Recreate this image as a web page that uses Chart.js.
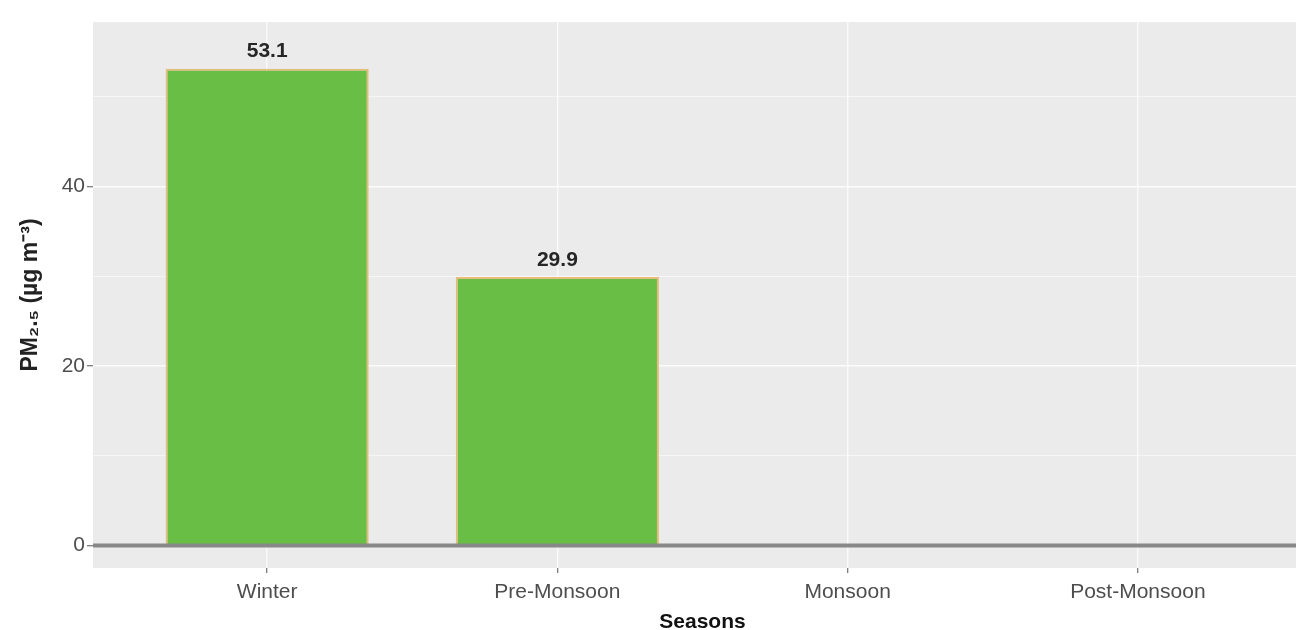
<!DOCTYPE html>
<html>
<head>
<meta charset="utf-8">
<script src="https://cdn.jsdelivr.net/npm/chart.js@4.4.1/dist/chart.umd.min.js"></script>
<style>
  html, body { margin: 0; padding: 0; background: #fff; overflow: hidden; }
  #wrap { width: 1312px; height: 645px; position: relative; }
</style>
</head>
<body>
<div id="wrap"><canvas id="barChart"></canvas></div>
<script>
// Seasonal mean PM2.5 values (Monsoon / Post-Monsoon have no bar)
const seasons = ["Winter", "Pre-Monsoon", "Monsoon", "Post-Monsoon"];
const pm25 = [53.1, 29.9, null, null];
const yMajorTicks = [0, 20, 40];
const yMinorTicks = [10, 30, 50];
const hlineY = 0;

// axis limits (ggplot style expansion)
const xMin = -0.6, xMax = 3.6;
const yMin = -2.5, yMax = 58.3;

const font = "'Liberation Sans', Arial, Helvetica, sans-serif";

// grey panel behind the plot
const panelBg = {
  id: "panelBg",
  beforeDraw(chart) {
    const { ctx, chartArea: a } = chart;
    ctx.save();
    ctx.fillStyle = "#EBEBEB";
    ctx.fillRect(a.left, a.top, a.right - a.left, a.bottom - a.top);
    ctx.restore();
  }
};

// value labels above each bar
const barLabels = {
  id: "barLabels",
  afterDatasetsDraw(chart) {
    const ctx = chart.ctx;
    const meta = chart.getDatasetMeta(0);
    ctx.save();
    ctx.font = "bold 21px " + font;
    ctx.fillStyle = "#262626";
    ctx.textAlign = "center";
    ctx.textBaseline = "middle";
    meta.data.forEach((bar, i) => {
      if (pm25[i] == null) return;
      ctx.fillText(pm25[i].toFixed(1), bar.x, bar.y - 17);
    });
    ctx.restore();
  }
};

const ctx = document.getElementById("barChart").getContext("2d");
new Chart(ctx, {
  type: "bar",
  data: {
    datasets: [
      {
        type: "bar",
        data: pm25.map((v, i) => ({ x: i, y: v })),
        backgroundColor: "#69BE45",
        borderColor: "#E6BC7C",
        borderWidth: 2,
        categoryPercentage: 1,
        barPercentage: 0.7,
        order: 1
      },
      {
        // horizontal reference line at zero
        type: "line",
        data: [{ x: xMin, y: hlineY }, { x: xMax, y: hlineY }],
        borderColor: "#888888",
        borderWidth: 4,
        pointRadius: 0,
        order: 0
      }
    ]
  },
  options: {
    responsive: true,
    maintainAspectRatio: false,
    animation: false,
    layout: { padding: { top: 22, left: 0, right: 0, bottom: 0 } },
    plugins: {
      legend: { display: false },
      tooltip: { enabled: false }
    },
    scales: {
      x: {
        type: "linear",
        min: xMin,
        max: xMax,
        offset: false,
        border: { display: false },
        afterBuildTicks: axis => {
          axis.ticks = seasons.map((_, i) => ({ value: i }));
        },
        afterFit: axis => { axis.height = 77; },
        grid: {
          offset: false,
          color: "rgba(255,255,255,0.75)",
          lineWidth: 1.5,
          tickColor: "#555555",
          tickLength: 5,
          tickWidth: 1
        },
        ticks: {
          autoSkip: false,
          maxRotation: 0,
          padding: 7,
          color: "#4D4D4D",
          font: { family: font, size: 21 },
          callback: value => seasons[value]
        },
        title: {
          display: true,
          text: "Seasons",
          color: "#111",
          font: { family: font, size: 21, weight: "bold" },
          padding: { top: 0, bottom: 10 }
        }
      },
      y: {
        min: yMin,
        max: yMax,
        border: { display: false },
        afterBuildTicks: axis => {
          axis.ticks = [...yMajorTicks, ...yMinorTicks]
            .sort((a, b) => a - b)
            .map(v => ({ value: v }));
        },
        afterFit: axis => { axis.width = 93; },
        grid: {
          color: c => (c.tick && yMajorTicks.includes(c.tick.value) ? "rgba(255,255,255,0.85)" : "rgba(255,255,255,0.55)"),
          lineWidth: c => (c.tick && yMajorTicks.includes(c.tick.value) ? 1.5 : 1),
          tickColor: c => (c.tick && yMajorTicks.includes(c.tick.value) ? "#555555" : "rgba(0,0,0,0)"),
          tickLength: 6,
          tickWidth: 1
        },
        ticks: {
          padding: 2,
          color: "#4D4D4D",
          font: { family: font, size: 21 },
          callback: value => (yMajorTicks.includes(value) ? value : "")
        },
        title: {
          display: true,
          text: "PM₂.₅ (µg m⁻³)",
          color: "#222",
          font: { family: font, size: 23, weight: "bold" },
          padding: { top: 17, bottom: 0 }
        }
      }
    }
  },
  plugins: [panelBg, barLabels]
});
</script>
</body>
</html>
